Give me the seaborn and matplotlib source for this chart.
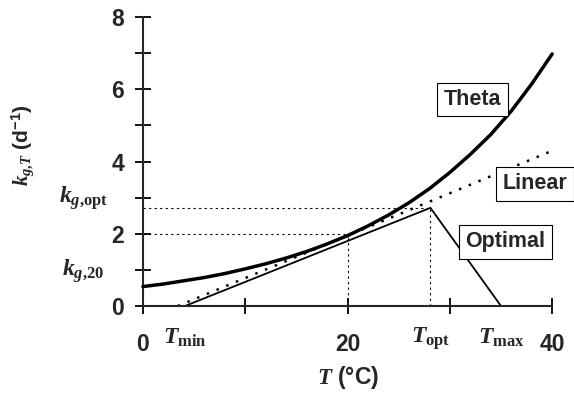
import matplotlib
matplotlib.use('Agg')
import matplotlib.pyplot as plt
import seaborn as sns
import pandas as pd

# ---- data ----
theta_T = [0, 2, 4, 6, 8, 10, 12, 14, 16, 18, 20, 22, 24, 26, 28, 30, 32, 34, 36, 38, 40]
theta_k = [0.54, 0.61, 0.70, 0.79, 0.90, 1.03, 1.17, 1.33, 1.51, 1.72, 1.95,
           2.22, 2.52, 2.86, 3.25, 3.70, 4.20, 4.75, 5.40, 6.15, 6.98]
linear_T = [3.4, 40]
linear_k = [0.0, 4.3]
optimal_T = [0, 4.1, 28.1, 35, 40]
optimal_k = [0, 0, 2.72, 0, 0]
T_min, T_20, T_opt, T_max = 4.1, 20, 28.1, 35
k_20, k_opt = 2.0, 2.72

x_ticks = [0, 10, 20, 30, 40]
x_ticklabels = ['0', '', '20', '', '40']
y_ticks = [0, 1, 2, 3, 4, 5, 6, 7, 8]
y_ticklabels = ['0', '', '2', '', '4', '', '6', '', '8']
x_special = [T_min, T_opt, T_max]
x_special_labels = [r'$T_{\mathrm{min}}$', r'$T_{\mathrm{opt}}$', r'$T_{\mathrm{max}}$']

label_names = ['Theta', 'Linear', 'Optimal']
label_T = [32.2, 38.3, 35.4]
label_k = [5.72, 3.39, 1.78]

# ---- style ----
sns.set_style('ticks')
plt.rcParams['font.family'] = ['Liberation Sans', 'DejaVu Sans']
plt.rcParams['font.weight'] = 'bold'
plt.rcParams['mathtext.fontset'] = 'custom'
plt.rcParams['mathtext.it'] = 'Liberation Serif:italic'
plt.rcParams['mathtext.rm'] = 'Liberation Serif'
plt.rcParams['mathtext.bf'] = 'Liberation Serif:bold'
plt.rcParams['mathtext.sf'] = 'Liberation Sans:bold'

fig = plt.figure(figsize=(5.74, 3.98), dpi=100)
ax = fig.add_axes([0.249, 0.231, 0.713, 0.726])

df_theta = pd.DataFrame({'T': theta_T, 'k': theta_k})
df_lin = pd.DataFrame({'T': linear_T, 'k': linear_k})
df_opt = pd.DataFrame({'T': optimal_T, 'k': optimal_k})

# reference dotted lines
ax.plot([0, T_20], [k_20, k_20], color='black', lw=0.8, ls=(0, (2, 3)), zorder=1)
ax.plot([T_20, T_20], [0, k_20], color='black', lw=0.8, ls=(0, (2, 3)), zorder=1)
ax.plot([0, T_opt], [k_opt, k_opt], color='black', lw=0.8, ls=(0, (2, 3)), zorder=1)
ax.plot([T_opt, T_opt], [0, k_opt], color='black', lw=0.8, ls=(0, (2, 3)), zorder=1)

sns.lineplot(data=df_opt, x='T', y='k', ax=ax, color='black', lw=1.3, clip_on=False, zorder=2)
sns.lineplot(data=df_lin, x='T', y='k', ax=ax, color='black', lw=1.8, linestyle=(0, (1, 3.2)), zorder=2)
sns.lineplot(data=df_theta, x='T', y='k', ax=ax, color='black', lw=2.5, clip_on=False, zorder=3)

for name, t, k in zip(label_names, label_T, label_k):
    ax.text(t, k, name, ha='center', va='center', fontsize=15.5, fontweight='bold',
            bbox=dict(boxstyle='square,pad=0.3', fc='white', ec='black', lw=0.8),
            zorder=5, clip_on=False)

ax.set_xlim(0, 40)
ax.set_ylim(0, 8)
sns.despine(ax=ax)
for s in ['left', 'bottom']:
    ax.spines[s].set_linewidth(1.5)

ax.set_xticks(x_ticks, labels=x_ticklabels)
ax.set_yticks(y_ticks, labels=y_ticklabels)
ax.set_xticks(x_special, labels=x_special_labels, minor=True)
ax.tick_params(axis='both', which='major', direction='inout', length=11, width=1.3,
               labelsize=16.5, color='black')
ax.tick_params(axis='x', which='major', pad=14)
ax.tick_params(axis='y', which='major', pad=8)
ax.tick_params(axis='x', which='minor', length=0, labelsize=17, pad=14)
ax.tick_params(axis='y', which='minor', length=0)
for lbl in ax.get_xticklabels() + ax.get_yticklabels():
    lbl.set_fontweight('bold')

ax.text(-3.4, k_opt + 0.15, r'$k_{g{,}\mathrm{opt}}$', ha='right', va='baseline', fontsize=17)
ax.text(-3.8, 0.83, r'$k_{g{,}20}$', ha='right', va='baseline', fontsize=17)

ax.set_xlabel(r'$T$ (°C)', fontsize=16.5, fontweight='bold')
ax.xaxis.set_label_coords(0.5, -0.2)
ax.set_ylabel(r'$k_{g{,}T}$ (d$^{\mathsf{-1}}$)', fontsize=15, fontweight='bold')
ax.yaxis.set_label_coords(-0.262, 0.557)

fig.savefig('out.png', dpi=100)
